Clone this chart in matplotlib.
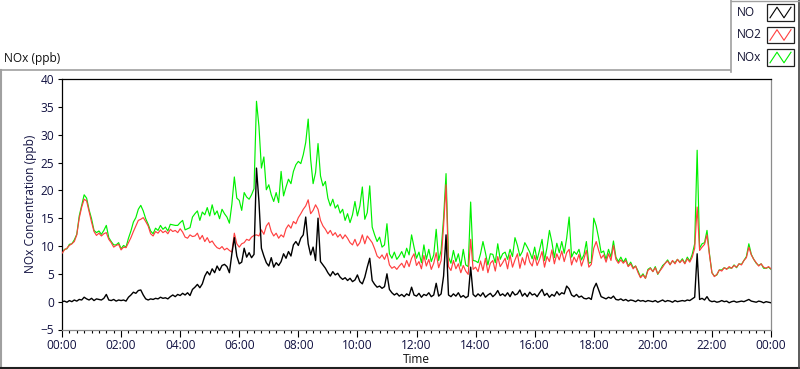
import numpy as np
import matplotlib
matplotlib.use("Agg")
import matplotlib.pyplot as plt
from matplotlib.lines import Line2D
from matplotlib.patches import Rectangle

plt.rcParams['font.family'] = ['Open Sans', 'DejaVu Sans']

# ---- data (5-minute samples, 00:00 .. 24:00) ----
no2 = [
    8.7, 9.3, 9.6, 10.1, 10.4, 10.8, 12.0, 15.0, 17.0, 18.4, 18.1, 16.2,
    14.3, 12.6, 11.9, 12.3, 11.8, 12.2, 12.4, 11.2, 10.6, 9.8, 10.1, 10.3,
    9.3, 9.8, 9.7, 10.6, 11.5, 12.6, 13.6, 14.6, 14.8, 15.1, 14.4, 13.6,
    12.2, 11.8, 12.6, 12.3, 12.9, 12.4, 12.7, 12.2, 13.0, 12.6, 12.8, 12.4,
    13.1, 12.5, 11.6, 11.4, 12.0, 11.7, 11.8, 12.3, 11.2, 11.9, 10.8, 11.5,
    10.6, 10.9, 10.2, 9.7, 9.5, 9.9, 9.3, 9.6, 9.2, 8.9, 12.3, 10.4,
    9.8, 10.4, 10.6, 11.2, 11.0, 11.6, 11.9, 12.0, 11.8, 12.9, 12.1, 13.6,
    14.2, 12.6, 11.8, 12.3, 11.4, 12.0, 11.6, 13.1, 13.8, 13.2, 14.4, 14.0,
    15.1, 15.8, 16.6, 17.2, 18.3, 15.8, 16.4, 17.4, 16.6, 14.6, 13.6, 13.0,
    12.2, 12.8, 11.9, 12.4, 11.6, 12.1, 11.3, 12.0, 11.4, 10.6, 10.2, 11.2,
    10.0, 10.6, 12.0, 10.4, 11.8, 11.2, 10.6, 9.5, 8.2, 7.8, 8.4, 7.6,
    8.7, 6.6, 6.0, 6.3, 5.8, 6.4, 6.9, 6.1, 7.4, 6.3, 7.8, 8.6,
    6.5, 7.2, 5.9, 8.3, 6.4, 7.6, 5.8, 6.9, 8.8, 6.1, 7.4, 13.6,
    21.0, 6.3, 5.6, 7.4, 5.9, 6.8, 5.2, 6.5, 5.5, 4.9, 11.2, 5.8,
    6.2, 5.4, 7.3, 5.6, 7.8, 5.2, 6.9, 7.4, 5.5, 8.1, 6.3, 7.0,
    7.8, 5.9, 8.4, 6.2, 7.5, 8.6, 6.0, 7.9, 6.6, 8.8, 7.1, 6.4,
    8.3, 6.5, 7.6, 9.0, 6.2, 8.1, 7.2, 9.3, 6.8, 8.6, 7.5, 9.1,
    7.2, 8.8, 9.4, 6.6, 8.0, 7.1, 8.5, 6.4, 7.7, 9.2, 6.2, 6.7,
    9.6, 10.8, 9.2, 7.8, 8.4, 7.1, 8.6, 7.4, 10.1, 7.6, 6.9, 7.5,
    6.9, 7.4, 6.3, 6.8, 5.9, 6.4, 5.2, 4.3, 4.8, 4.2, 5.6, 6.0,
    5.4, 6.1, 5.0, 5.6, 6.2, 6.9, 7.3, 6.6, 7.4, 6.8, 7.6, 7.0,
    7.5, 6.8, 7.7, 7.1, 8.0, 9.6, 17.0, 9.2, 9.8, 10.3, 12.0, 8.4,
    5.2, 4.5, 4.9, 5.7, 5.5, 6.1, 5.8, 6.3, 6.0, 6.5, 6.2, 6.8,
    6.6, 7.4, 7.9, 9.8, 8.4, 7.6, 7.0, 6.4, 6.8, 6.2, 6.0, 6.3,
    5.9,
]

no = [
    0.0, 0.1, -0.1, 0.2, 0.0, 0.3, 0.1, 0.4, 0.3, 0.8, 0.5, 0.3,
    0.6, 0.2, 0.5, 0.4, 0.3, 0.6, 1.3, 0.3, 0.2, 0.4, 0.1, 0.3,
    0.2, 0.3, 0.1, 0.8, 1.2, 1.7, 1.5, 2.0, 2.1, 1.2, 0.5, 0.3,
    0.5, 0.4, 0.6, 0.5, 0.8, 0.6, 0.7, 0.5, 0.9, 1.2, 0.9, 1.3,
    1.1, 1.5, 1.2, 1.6, 1.1, 2.2, 2.6, 3.1, 2.5, 3.2, 4.6, 5.4,
    4.8, 5.9, 5.2, 6.4, 5.6, 6.5, 6.7, 6.3, 5.2, 8.6, 11.5, 8.2,
    6.8, 7.1, 9.6, 8.0, 8.8, 7.9, 8.5, 24.0, 18.0, 9.6, 8.2, 7.0,
    6.4, 7.9, 6.2, 7.0, 6.5, 7.2, 8.6, 7.8, 9.0, 8.2, 10.2, 10.8,
    10.1, 11.4, 12.0, 15.2, 10.4, 8.4, 9.8, 7.4, 15.0, 7.2, 6.6, 6.0,
    5.2, 4.6, 5.4, 4.8, 5.1, 4.4, 4.0, 4.3, 3.8, 4.2, 3.6, 3.9,
    4.8, 3.6, 3.2, 4.4, 6.2, 7.8, 3.8, 3.1, 2.6, 2.8, 2.4, 2.7,
    5.0, 2.2, 1.6, 1.2, 1.5, 1.0, 1.3, 0.9, 1.4, 1.1, 2.6, 1.2,
    1.0, 1.5, 0.8, 1.3, 1.1, 1.6, 0.9, 1.2, 3.3, 1.0, 1.4, 4.6,
    12.0, 1.2, 0.9, 1.4, 1.0, 1.6, 0.8, 1.1, 0.7, 1.0, 6.2, 1.3,
    0.9, 1.4, 1.0, 1.6, 0.8, 1.2, 1.5, 0.9, 1.3, 2.0, 1.1, 1.4,
    1.0, 1.6, 0.9, 1.8, 1.2, 1.4, 2.1, 1.0, 1.5, 0.9, 1.7, 1.2,
    1.4, 0.9, 1.6, 2.2, 1.1, 1.5, 0.8, 1.3, 1.0, 1.8, 1.2, 1.6,
    1.4, 2.8, 2.3, 1.2, 0.9, 1.3, 0.8, 1.0, 0.6, 0.5, 0.7, 0.4,
    2.4, 3.3, 2.1, 0.9, 0.7, 0.5, 0.8, 0.6, 1.0, 0.4, 0.3, 0.5,
    0.2, 0.4, 0.1, 0.3, 0.2, 0.0, 0.3, 0.1, 0.2, 0.0, 0.2, 0.1,
    0.0, 0.2, -0.1, 0.1, 0.3, 0.0, 0.2, 0.1, -0.1, 0.2, 0.0, 0.1,
    0.2, 0.1, 0.3, 0.2, 0.5, 0.8, 8.6, 0.4, 0.6, 0.3, 0.9, 0.2,
    0.0, 0.1, -0.1, 0.0, 0.2, 0.0, 0.1, -0.2, 0.0, 0.1, -0.1, 0.0,
    0.1, 0.0, 0.2, 0.4, 0.1, 0.0, -0.1, 0.1, 0.0, -0.2, 0.0, -0.1,
    -0.2,
]

nox = [
    8.7, 9.4, 9.5, 10.3, 10.4, 11.1, 12.1, 15.4, 17.3, 19.2, 18.6, 16.5,
    14.9, 12.8, 12.4, 12.7, 12.1, 12.8, 13.7, 11.5, 10.8, 10.2, 10.2, 10.6,
    9.5, 10.1, 9.8, 11.4, 12.7, 14.3, 15.1, 16.6, 17.3, 16.3, 14.9, 13.9,
    12.7, 12.2, 13.2, 12.8, 13.7, 13.0, 13.4, 12.7, 13.9, 13.8, 13.7, 13.7,
    14.2, 14.6, 12.9, 13.1, 13.3, 15.2, 15.8, 16.3, 14.6, 16.1, 15.6, 16.9,
    15.4, 17.4, 15.6, 16.3, 14.9, 16.6, 15.8, 15.2, 14.1, 17.5, 22.4, 18.6,
    18.2, 16.4, 19.6, 18.8, 18.4, 19.2, 20.3, 36.0, 31.5, 24.0, 26.0, 20.1,
    21.0, 19.2, 18.0, 19.6, 17.8, 23.4, 19.0, 20.6, 22.0, 21.2, 23.4, 24.6,
    25.2, 24.8, 26.4, 28.6, 32.8, 25.6, 21.2, 23.2, 28.4, 22.6, 20.8, 21.6,
    18.6, 17.2, 18.4, 16.8, 17.4, 15.9, 16.6, 14.6, 15.8, 14.2, 15.6, 18.0,
    15.4, 17.2, 20.6, 14.8, 16.0, 20.8, 13.4, 12.0, 10.8, 11.6, 9.8, 10.2,
    14.0, 8.6, 7.8, 8.9, 7.6, 8.2, 9.0, 7.9, 9.6, 8.4, 12.0, 9.8,
    7.8, 8.9, 7.0, 10.2, 7.6, 9.4, 7.2, 8.4, 13.0, 7.4, 9.2, 15.0,
    23.0, 8.0, 6.9, 9.2, 7.2, 8.6, 6.4, 9.4, 6.6, 6.3, 17.9, 7.4,
    7.3, 7.0, 8.6, 10.8, 8.8, 6.6, 8.6, 8.5, 7.0, 10.4, 7.6, 8.6,
    8.9, 7.6, 9.4, 8.1, 11.5, 10.1, 8.2, 9.0, 10.6, 9.8, 8.9, 7.7,
    9.8, 7.5, 9.3, 11.2, 7.4, 9.7, 12.8, 10.7, 7.9, 10.5, 8.8, 10.8,
    8.7, 11.4, 15.2, 8.0, 9.0, 8.5, 9.4, 7.5, 8.4, 10.8, 6.9, 7.1,
    15.0, 13.6, 11.4, 8.8, 9.1, 7.6, 9.4, 8.0, 10.9, 8.0, 7.2, 8.0,
    7.1, 7.8, 6.4, 7.1, 6.1, 6.4, 5.5, 4.4, 5.0, 4.2, 5.8, 6.1,
    5.4, 6.3, 4.9, 5.7, 6.5, 6.9, 7.5, 6.7, 7.3, 7.0, 7.6, 7.1,
    7.7, 6.9, 8.0, 7.3, 8.5, 10.4, 27.2, 9.6, 10.4, 10.6, 12.8, 8.6,
    5.2, 4.6, 4.8, 5.7, 5.7, 6.1, 5.9, 6.1, 6.0, 6.6, 6.1, 6.8,
    6.7, 7.4, 8.1, 10.4, 8.5, 7.6, 6.9, 6.5, 6.8, 6.0, 6.0, 6.2,
    5.8,
]

tick_hours = [0, 2, 4, 6, 8, 10, 12, 14, 16, 18, 20, 22, 24]
tick_labels = ["00:00", "02:00", "04:00", "06:00", "08:00", "10:00", "12:00",
               "14:00", "16:00", "18:00", "20:00", "22:00", "00:00"]
y_ticks = [-5, 0, 5, 10, 15, 20, 25, 30, 35, 40]
series_names = ["NO", "NO2", "NOx"]
series_colors = ["#000000", "#ff4040", "#00f000"]

hours = np.arange(len(no2)) * 5 / 60.0

W, H = 800, 369
fig = plt.figure(figsize=(W / 100, H / 100), dpi=100)
fig.patch.set_facecolor("white")


def fx(px):
    return px / W


def fy(py):
    return 1 - py / H


FS = 8.6

# outer frame
fig.add_artist(Line2D([fx(0.5), fx(730)], [fy(69.5), fy(69.5)], color="#a0a0a0", lw=1.2))
fig.add_artist(Line2D([fx(0.8), fx(0.8)], [fy(69.5), fy(369)], color="#a0a0a0", lw=1.5))
fig.add_artist(Line2D([fx(0), fx(800)], [fy(367.5), fy(367.5)], color="#202020", lw=1.5))
fig.add_artist(Line2D([fx(799.3), fx(799.3)], [fy(0), fy(369)], color="#404040", lw=1.2))

# legend box
fig.add_artist(Line2D([fx(730.5), fx(730.5)], [fy(0), fy(72)], color="#a0a0a0", lw=1.2))
fig.add_artist(Line2D([fx(730.5), fx(800)], [fy(0.5), fy(0.5)], color="#a0a0a0", lw=1.0))
legend_y = [12.5, 35, 57.5]
for name, col, cy in zip(series_names, series_colors, legend_y):
    fig.text(fx(737), fy(cy), name, ha="left", va="center", fontsize=FS, color="#101030")
    x0, x1 = 767, 794
    y0, y1 = cy - 8.3, cy + 8.3
    fig.add_artist(Rectangle((fx(x0), fy(y1)), fx(x1) - fx(x0), fy(y0) - fy(y1),
                             facecolor="white", edgecolor="#202020", lw=0.9))
    zx = [x0 + 3, x0 + 10, x0 + 17, x0 + 24]
    zy = [y1 - 3, y0 + 3, y1 - 3, y0 + 3]
    fig.add_artist(Line2D([fx(v) for v in zx], [fy(v) for v in zy], color=col, lw=0.8))

# main axes
ax = fig.add_axes([fx(62), fy(329.5), fx(771) - fx(62), fy(79) - fy(329.5)])
ax.plot(hours, nox, color=series_colors[2], lw=0.85, zorder=2)
ax.plot(hours, no2, color=series_colors[1], lw=0.85, zorder=3)
ax.plot(hours, no, color=series_colors[0], lw=1.0, zorder=4)

ax.set_xlim(0, 24)
ax.set_ylim(-5, 40)
ax.set_xticks(tick_hours)
ax.set_xticklabels(tick_labels)
ax.set_xticks(np.arange(0, 24.01, 0.25), minor=True)
ax.set_yticks(y_ticks)
ax.tick_params(axis="x", which="major", direction="out", length=5, width=0.8,
               labelsize=FS, labelcolor="#101040", pad=1.5)
ax.tick_params(axis="x", which="minor", direction="out", length=2.5, width=0.8)
ax.tick_params(axis="y", which="major", direction="out", length=3, width=0.8,
               labelsize=FS, labelcolor="#101040", pad=2.5)

for side in ["left", "top"]:
    ax.spines[side].set_color("#000000")
    ax.spines[side].set_linewidth(0.9)
for side in ["right", "bottom"]:
    ax.spines[side].set_color("#8c8c8c")
    ax.spines[side].set_linewidth(0.9)

fig.text(fx(4), fy(58.5), "NOx (ppb)", ha="left", va="center", fontsize=FS, color="#101010")
fig.text(fx(31), fy(204), "NOx Concentration (ppb)", ha="center", va="center",
         rotation=90, fontsize=FS, color="#101040")
fig.text(fx(416), fy(359.5), "Time", ha="center", va="center", fontsize=FS, color="#101010")

fig.savefig("out.png", dpi=100, facecolor="white")
